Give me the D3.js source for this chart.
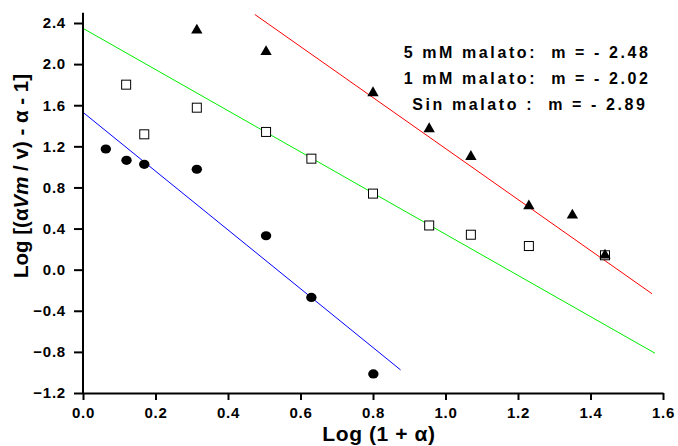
<!DOCTYPE html>
<html>
<head>
<meta charset="utf-8">
<script src="https://cdn.jsdelivr.net/npm/d3@7"></script>
<style>
  body { margin: 0; background: #fff; }
  svg { display: block; font-family: "Liberation Sans", Arial, sans-serif; }
</style>
</head>
<body>
<script>
var w = 678;
var h = 446;

// datos
var x5mM = [0.314, 0.505, 0.80, 0.955, 1.07, 1.23, 1.35, 1.44];
var y5mM = [2.33, 2.12, 1.72, 1.37, 1.10, 0.62, 0.53, 0.14];

var x1mM = [0.119, 0.169, 0.314, 0.505, 0.63, 0.80, 0.955, 1.07, 1.23, 1.44];
var y1mM = [1.80, 1.317, 1.576, 1.34, 1.08, 0.74, 0.43, 0.34, 0.23, 0.14];

var xSin = [0.063, 0.12, 0.169, 0.314, 0.505, 0.63, 0.801];
var ySin = [1.174, 1.064, 1.025, 0.977, 0.33, -0.27, -1.014];

// rectas de ajuste: [x inicio, y inicio, x fin, y fin]
var fit5mM = [0.474, 2.483, 1.57, -0.235];
var fit1mM = [0.0, 2.348, 1.578, -0.813];
var fitSin = [0.0, 1.531, 0.876, -0.975];

var xTicks = [0.0, 0.2, 0.4, 0.6, 0.8, 1.0, 1.2, 1.4, 1.6];
var yTicks = [-1.2, -0.8, -0.4, 0.0, 0.4, 0.8, 1.2, 1.6, 2.0, 2.4];

var notes = ["5 mM malato:  m = - 2.48", "1 mM malato:  m = - 2.02", "Sin malato :  m = - 2.89"];
var notesRight = [648, 648, 645];

var svg = d3.select("body").append("svg")
    .attr("width", w)
    .attr("height", h);

var x = d3.scaleLinear().domain([0, 1.6]).range([83, 663]);
var y = d3.scaleLinear().domain([-1.2, 2.4]).range([393, 23]);

// rectas
function drawFit(f, color) {
    svg.append("line")
        .attr("x1", x(f[0])).attr("y1", y(f[1]))
        .attr("x2", x(f[2])).attr("y2", y(f[3]))
        .attr("stroke", color)
        .attr("stroke-width", 1);
}
drawFit(fit1mM, "#00ee00");
drawFit(fit5mM, "#ff0000");
drawFit(fitSin, "#0000ff");

// ejes
var xMinor = d3.range(0, 1.61, 0.1);
var yMinor = d3.range(-1.2, 2.41, 0.2);

var gx = svg.append("g").attr("transform", "translate(0," + y(-1.2) + ")");
gx.call(d3.axisBottom(x).tickValues(xMinor).tickSize(4.5).tickFormat(""));
gx.call(d3.axisBottom(x).tickValues(xTicks).tickSize(7).tickSizeOuter(0)
    .tickFormat(d3.format(".1f")));
gx.selectAll("path").attr("stroke", "#000").attr("stroke-width", 2);
gx.selectAll("line").attr("stroke", "#000").attr("stroke-width", 2);
gx.selectAll("text")
    .attr("font-size", "15px")
    .attr("font-weight", "bold")
    .attr("letter-spacing", "0.8px")
    .attr("fill", "#000")
    .attr("y", 14)
    .attr("dy", "0.71em");

var gy = svg.append("g").attr("transform", "translate(" + x(0) + ",0)");
gy.call(d3.axisLeft(y).tickValues(yMinor).tickSize(4.5).tickFormat(""));
gy.call(d3.axisLeft(y).tickValues(yTicks).tickSize(9).tickSizeOuter(0)
    .tickFormat(d3.format(".1f")));
gy.selectAll("path").remove();
gy.append("line")
    .attr("x1", 0).attr("x2", 0)
    .attr("y1", y(2.5)).attr("y2", y(-1.2))
    .attr("stroke", "#000").attr("stroke-width", 2);
gy.selectAll(".tick line").attr("stroke", "#000").attr("stroke-width", 2);
gy.selectAll("text")
    .attr("font-size", "15px")
    .attr("font-weight", "bold")
    .attr("letter-spacing", "0.8px")
    .attr("fill", "#000")
    .attr("x", -17);

// puntos
svg.selectAll(".sin")
    .data(xSin)
    .enter()
    .append("ellipse")
    .attr("class", "sin")
    .attr("cx", function(d) { return x(d); })
    .attr("cy", function(d, i) { return y(ySin[i]); })
    .attr("rx", 5.2)
    .attr("ry", 4.6)
    .attr("fill", "#000");

svg.selectAll(".uno")
    .data(x1mM)
    .enter()
    .append("rect")
    .attr("class", "uno")
    .attr("x", function(d) { return x(d) - 4.5; })
    .attr("y", function(d, i) { return y(y1mM[i]) - 4.5; })
    .attr("width", 9)
    .attr("height", 9)
    .attr("fill", "#fff")
    .attr("stroke", "#000")
    .attr("stroke-width", 1);

var tri = d3.symbol().type(d3.symbolTriangle).size(56);
svg.selectAll(".cinco")
    .data(x5mM)
    .enter()
    .append("path")
    .attr("class", "cinco")
    .attr("d", tri)
    .attr("transform", function(d, i) {
        return "translate(" + x(d) + "," + y(y5mM[i]) + ")";
    })
    .attr("fill", "#000");

// textos
svg.selectAll(".nota")
    .data(notes)
    .enter()
    .append("text")
    .attr("class", "nota")
    .attr("xml:space", "preserve")
    .attr("x", function(d, i) { return notesRight[i] + 2.6; })
    .attr("y", function(d, i) { return 58 + i * 25.8; })
    .attr("text-anchor", "end")
    .attr("font-size", "16px")
    .attr("font-weight", "bold")
    .attr("letter-spacing", "2.6px")
    .text(function(d) { return d; });

svg.append("text")
    .attr("x", 379)
    .attr("y", 441)
    .attr("text-anchor", "middle")
    .attr("font-size", "21px")
    .attr("font-weight", "bold")
    .attr("letter-spacing", "0.6px")
    .text("Log (1 + \u03b1)");

var yl = svg.append("text")
    .attr("transform", "translate(28,176) rotate(-90)")
    .attr("text-anchor", "middle")
    .attr("font-size", "20.5px")
    .attr("font-weight", "bold");
yl.append("tspan").text("Log [(\u03b1");
yl.append("tspan").attr("font-style", "italic").text("Vm");
yl.append("tspan").text(" / v) - \u03b1 - 1]");
</script>
</body>
</html>
